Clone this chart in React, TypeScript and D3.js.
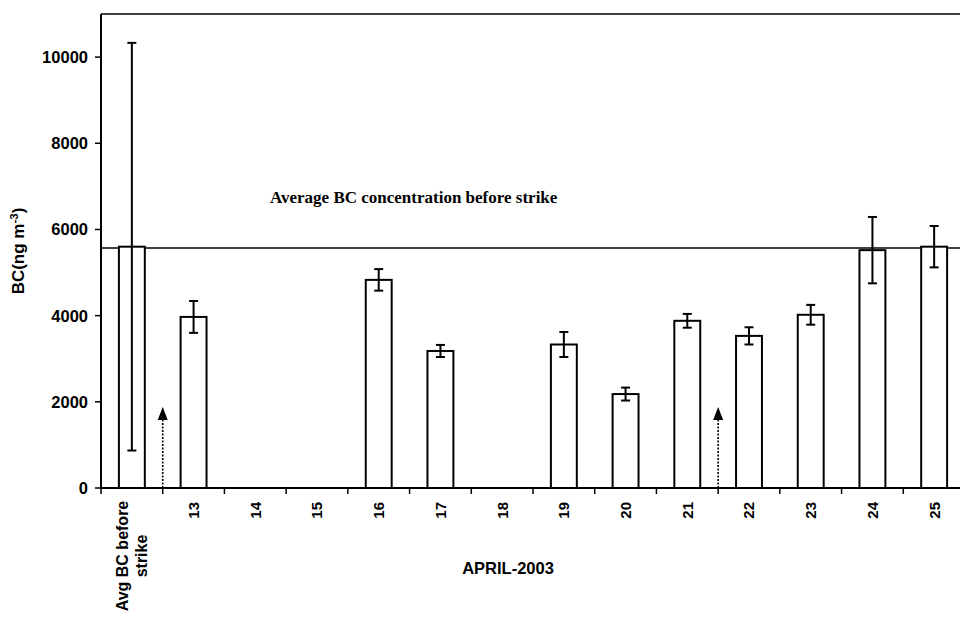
import React from "react";
import * as d3 from "d3";

// categories along the x axis
const categories = ["avg", "13", "14", "15", "16", "17", "18", "19", "20", "21", "22", "23", "24", "25"];
// mean BC (ng m-3); null = no measurement that day
const bcValues: (number | null)[] = [5600, 3970, null, null, 4830, 3180, null, 3330, 2180, 3880, 3530, 4020, 5520, 5600];
// symmetric error (±)
const bcErrors: (number | null)[] = [4730, 370, null, null, 250, 140, null, 290, 150, 160, 200, 230, 770, 480];
const yTicks = [0, 2000, 4000, 6000, 8000, 10000];
const avgBeforeStrike = 5570;
// arrows mark the left edge of these categories
const arrowAt = ["13", "22"];

const W = 960;
const H = 617;
const left = 101;
const right = 965;
const top = 14;
const bottom = 488;

export default function App() {
  const x = d3.scaleBand<string>().domain(categories).range([left, right]).padding(0);
  const y = d3.scaleLinear().domain([0, 11000]).range([bottom, top]);
  const bw = x.bandwidth() * 0.42;
  const sans = "'Liberation Sans', Arial, sans-serif";
  const serif = "'Liberation Serif', 'Times New Roman', serif";

  return (
    <svg width={W} height={H} style={{ position: "absolute", left: 0, top: 0, background: "#fff" }}>
      {/* plot frame */}
      <line x1={left} x2={W} y1={top} y2={top} stroke="#000" strokeWidth={1.6} />

      {/* average line */}
      <line x1={left} x2={right} y1={y(avgBeforeStrike)} y2={y(avgBeforeStrike)} stroke="#000" strokeWidth={1.6} />
      <text x={270} y={203} fontFamily={serif} fontWeight="bold" fontSize={17}>
        Average BC concentration before strike
      </text>

      {/* bars and error bars */}
      {categories.map((c, i) => {
        const v = bcValues[i];
        if (v == null) return null;
        const e = bcErrors[i] ?? 0;
        const cx = (x(c) ?? 0) + x.bandwidth() / 2;
        return (
          <g key={c}>
            <rect x={cx - bw / 2} y={y(v)} width={bw} height={bottom - y(v)} fill="#fff" stroke="#000" strokeWidth={2} />
            <line x1={cx} x2={cx} y1={y(v + e)} y2={y(v - e)} stroke="#000" strokeWidth={2} />
            <line x1={cx - 4.5} x2={cx + 4.5} y1={y(v + e)} y2={y(v + e)} stroke="#000" strokeWidth={2} />
            <line x1={cx - 4.5} x2={cx + 4.5} y1={y(v - e)} y2={y(v - e)} stroke="#000" strokeWidth={2} />
          </g>
        );
      })}

      {/* strike arrows */}
      {arrowAt.map((c) => {
        const ax = x(c) ?? 0;
        return (
          <g key={c}>
            <line x1={ax} x2={ax} y1={bottom} y2={419} stroke="#000" strokeWidth={1.6} strokeDasharray="2,1.5" />
            <path d={`M${ax},407 L${ax + 5},420 L${ax - 5},420 Z`} fill="#000" />
          </g>
        );
      })}

      {/* y axis */}
      <line x1={left} x2={left} y1={top} y2={bottom} stroke="#000" strokeWidth={2} />
      {yTicks.map((t) => (
        <g key={t}>
          <line x1={left - 6} x2={left} y1={y(t)} y2={y(t)} stroke="#000" strokeWidth={1.5} />
          <text x={88} y={y(t)} dy="0.36em" textAnchor="end" fontFamily={sans} fontWeight="bold" fontSize={16.5}>
            {t}
          </text>
        </g>
      ))}
      <text
        transform={`translate(24,251) rotate(-90)`}
        textAnchor="middle"
        fontFamily={sans}
        fontWeight="bold"
        fontSize={17}
      >
        BC(ng m<tspan dy="-6" fontSize={11.5}>-3</tspan>
        <tspan dy="6">)</tspan>
      </text>

      {/* x axis */}
      <line x1={left} x2={right} y1={bottom} y2={bottom} stroke="#000" strokeWidth={2} />
      {categories.map((c) => (
        <line key={"t" + c} x1={x(c) ?? 0} x2={x(c) ?? 0} y1={bottom} y2={bottom + 6} stroke="#000" strokeWidth={1.5} />
      ))}
      {categories.map((c) => {
        const cx = (x(c) ?? 0) + x.bandwidth() / 2;
        if (c === "avg") {
          return (
            <text
              key={"l" + c}
              transform={`translate(${cx},500) rotate(-90)`}
              textAnchor="middle"
              fontFamily={sans}
              fontWeight="bold"
              fontSize={16}
            >
              <tspan x={-56} y={-4} textAnchor="middle">Avg BC before</tspan>
              <tspan x={-56} y={15} textAnchor="middle">strike</tspan>
            </text>
          );
        }
        return (
          <text
            key={"l" + c}
            transform={`translate(${cx},502) rotate(-90)`}
            textAnchor="end"
            dy="0.36em"
            fontFamily={sans}
            fontWeight="bold"
            fontSize={15}
          >
            {c}
          </text>
        );
      })}
      <text x={508} y={574} textAnchor="middle" fontFamily={sans} fontWeight="bold" fontSize={16.5}>
        APRIL-2003
      </text>
    </svg>
  );
}
